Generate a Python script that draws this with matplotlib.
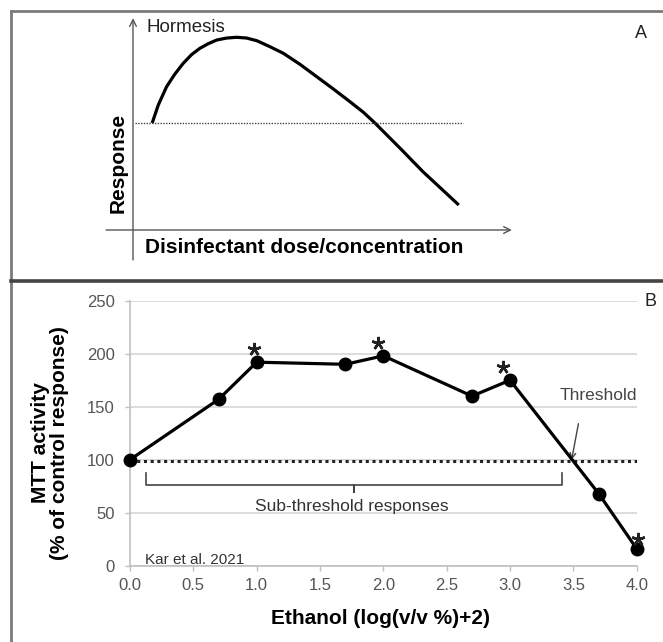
import numpy as np
import matplotlib
matplotlib.use("Agg")
import matplotlib.pyplot as plt
from matplotlib.lines import Line2D

plt.rcParams['font.family'] = ['Liberation Sans', 'DejaVu Sans']

# panel A: schematic hormesis curve (dose units, response in % of control)
dose_a = [0.60, 0.79, 1.05, 1.31, 1.57, 1.83, 2.09, 2.35, 2.62, 2.93, 3.24, 3.55, 3.87,
          4.28, 4.70, 5.22, 5.74, 6.26, 6.78, 7.20, 7.56, 8.40, 9.06, 10.18]
resp_a = [100, 116.8, 134.0, 145.8, 155.8, 163.9, 169.8, 174.1, 177.6, 179.4, 180.1, 179.4, 176.9,
          171.3, 165.1, 154.8, 143.3, 131.8, 119.9, 110.0, 100, 74.8, 54.5, 23.4]

# panel B: MTT activity vs ethanol
ethanol = [0.0, 0.7, 1.0, 1.7, 2.0, 2.7, 3.0, 3.7, 4.0]
mtt = [100, 157, 192, 190, 198, 160, 175, 68, 16]
star_x = [0.977, 1.955, 2.947, 4.01]
star_y = [204, 210, 187, 25]
threshold = 98.5
y_ticks = [0, 50, 100, 150, 200, 250]
x_ticks = [0.0, 0.5, 1.0, 1.5, 2.0, 2.5, 3.0, 3.5, 4.0]

W, H = 663, 642
fig = plt.figure(figsize=(W / 100, H / 100), dpi=100)

# frame lines
def px(x, y):
    return x / W, 1 - y / H
for (x0, y0), (x1, y1), c, lw in [((10.5, 11), (10.5, 642), '#7a7a7a', 2.0),
                                  ((10.5, 11), (663, 11), '#7a7a7a', 2.0),
                                  ((10.5, 281), (663, 281), '#444444', 2.6)]:
    a, b = px(x0, y0)
    c2, d = px(x1, y1)
    fig.add_artist(Line2D([a, c2], [b, d], color=c, lw=lw, transform=fig.transFigure))

# ---- panel A ----
ax_a = fig.add_axes([85 / W, 1 - 272.8 / H, 528 / W, 267.5 / H])
ax_a.set_xlim(-1.5, 15)
ax_a.set_ylim(-40, 210)
ax_a.axis('off')
ax_a.plot(dose_a, resp_a, color='black', lw=2.3, solid_capstyle='butt', solid_joinstyle='round')
ax_a.plot([0.06, 10.3], [100, 100], color='#444444', lw=1.0, ls=(0, (1, 1)))
ax_a.annotate('', xy=(0, 198), xytext=(0, -28),
              arrowprops=dict(arrowstyle='->', color='#555555', lw=1.0, mutation_scale=12, shrinkA=0, shrinkB=0))
ax_a.annotate('', xy=(11.84, 0), xytext=(-0.84, 0),
              arrowprops=dict(arrowstyle='->', color='#555555', lw=1.0, mutation_scale=12, shrinkA=0, shrinkB=0))
ax_a.text(0.41, 189.7, 'Hormesis', fontsize=13.5, ha='left', va='center', color='#222222')
ax_a.text(-0.47, 62.6, 'Response', fontsize=15, fontweight='bold', rotation=90, ha='center', va='center')
ax_a.text(5.35, -16.8, 'Disinfectant dose/concentration', fontsize=15, fontweight='bold',
          ha='center', va='center')
fig.text(640.6 / W, 1 - 33 / H, 'A', fontsize=13, ha='center', va='center', color='#222222')

# ---- panel B ----
ax = fig.add_axes([130 / W, 1 - 565.7 / H, 506.7 / W, 265 / H])
ax.set_xlim(0, 4)
ax.set_ylim(0, 250)
ax.set_yticks(y_ticks)
ax.set_xticks(x_ticks)
ax.set_xticklabels(['%.1f' % v for v in x_ticks])
ax.yaxis.grid(True, color='#d9d9d9', lw=1.3)
ax.set_axisbelow(True)
for s in ['top', 'right']:
    ax.spines[s].set_visible(False)
for s in ['left', 'bottom']:
    ax.spines[s].set_color('#c0c0c0')
    ax.spines[s].set_linewidth(1.2)
ax.tick_params(axis='both', colors='#c0c0c0', labelcolor='#555555', labelsize=12, length=3.5, width=1.0)
ax.tick_params(axis='y', pad=7.5)
ax.tick_params(axis='x', pad=5)

ax.plot([0, 4], [threshold, threshold], color='#222222', lw=2.2, ls=(0, (1, 1.2)))
ax.plot(ethanol, mtt, color='black', lw=2.3, marker='o', ms=9, clip_on=False, zorder=5)
ax.plot(star_x, star_y, ls='none', marker=(5, 2, 0), ms=9.5, mew=1.8, color='#222222',
        clip_on=False, zorder=6)

# bracket for sub-threshold responses
bl, br, bm = 0.13, 3.41, 1.77
ax.plot([bl, bl, bm, bm, bm, br, br], [87, 76, 76, 70, 76, 76, 87], color='#444444', lw=1.2)
ax.text(bm - 0.02, 56, 'Sub-threshold responses', fontsize=12.5, ha='center', va='center', color='#333333')

ax.text(4.0, 161, 'Threshold', fontsize=12.5, ha='right', va='center', color='#444444')
ax.annotate('', xy=(3.486, 99.7), xytext=(3.54, 134),
            arrowprops=dict(arrowstyle='->', color='#444444', lw=1.0, mutation_scale=10, shrinkA=0, shrinkB=0))
ax.text(0.12, 5.4, 'Kar et al. 2021', fontsize=11, ha='left', va='center', color='#333333')

ax.text(-0.158, 0.463, 'MTT activity\n(% of control response)', transform=ax.transAxes,
        rotation=90, ha='center', va='center', fontsize=15, fontweight='bold', linespacing=1.0,
        multialignment='center')
ax.text(0.495, -0.2, 'Ethanol (log(v/v %)+2)', transform=ax.transAxes,
        ha='center', va='center', fontsize=15, fontweight='bold')
fig.text(651 / W, 1 - 301.7 / H, 'B', fontsize=13, ha='center', va='center', color='#222222')

fig.savefig('out.png', dpi=100)
